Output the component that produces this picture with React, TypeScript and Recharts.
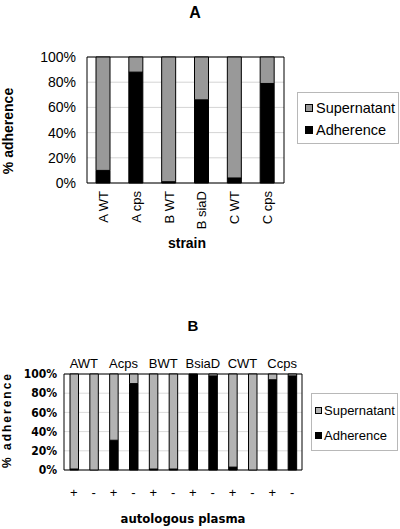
import { Bar, BarChart, CartesianGrid, Legend, ReferenceArea, XAxis, YAxis } from 'recharts';

const FONT = '"Liberation Sans", Arial, sans-serif';
const NARROW = '"Liberation Sans Narrow", "DejaVu Sans Condensed", "Liberation Sans", Arial, sans-serif';

// panel A
const strainsA = ['A WT', 'A cps', 'B WT', 'B siaD', 'C WT', 'C cps'];
const adherenceA = [10, 88, 1, 66, 4, 79];
const supernatantA = [90, 12, 99, 34, 96, 21];

// panel B
const groupsB = ['AWT', 'AWT', 'Acps', 'Acps', 'BWT', 'BWT', 'BsiaD', 'BsiaD', 'CWT', 'CWT', 'Ccps', 'Ccps'];
const plasmaB = ['+', '-', '+', '-', '+', '-', '+', '-', '+', '-', '+', '-'];
const adherenceB = [1, 0, 31, 90, 1, 1, 100, 98, 3, 0, 94, 98];
const supernatantB = [99, 100, 69, 10, 99, 99, 0, 2, 97, 100, 6, 2];

const percentTicks = [0, 20, 40, 60, 80, 100];

const dataA = strainsA.map((s, i) => ({ strain: s, adherence: adherenceA[i], supernatant: supernatantA[i] }));
const dataB = plasmaB.map((p, i) => ({ plasma: p, group: groupsB[i], adherence: adherenceB[i], supernatant: supernatantB[i] }));

const pct = (v: number) => `${v}%`;

const LegendBox = (props: any) => {
  const { payload, fontSize, rowHeight, padTop, iconSize, padLeft, gap, width, height } = props;
  return (
    <div
      style={{
        width,
        height,
        border: '1px solid #b8b8b8',
        boxSizing: 'border-box',
        paddingTop: padTop,
        paddingLeft: padLeft,
        background: '#fff',
        fontFamily: FONT,
        fontSize,
        color: '#000',
      }}
    >
      {[...(payload ?? [])].reverse().map((p: any) => (
        <div key={p.value} style={{ height: rowHeight, display: 'flex', alignItems: 'center' }}>
          <span
            style={{
              display: 'inline-block',
              width: iconSize,
              height: iconSize,
              background: p.color,
              border: '1px solid #000',
              boxSizing: 'border-box',
              marginRight: gap,
            }}
          />
          <span>{p.value}</span>
        </div>
      ))}
    </div>
  );
};

const StrainTick = (props: any) => {
  const { x, payload } = props;
  return (
    <text
      x={x}
      y={191}
      transform={`rotate(-90, ${x}, 191)`}
      textAnchor='end'
      dominantBaseline='central'
      fontFamily={FONT}
      fontSize={13}
      fill='#000'
    >
      {payload.value}
    </text>
  );
};

const PlasmaTick = (props: any) => {
  const { x, payload } = props;
  return (
    <text x={x} y={227} textAnchor='middle' dominantBaseline='central' fontFamily={FONT} fontSize={13} fill='#000'>
      {payload.value}
    </text>
  );
};

const GroupTick = (props: any) => {
  const { x, payload, index } = props;
  if (index % 2 !== 0) return <g />;
  const half = payload.offset ?? 9.9;
  return (
    <text x={x + half} y={98} textAnchor='middle' dominantBaseline='central' fontFamily={FONT} fontSize={13} fill='#000'>
      {payload.value}
    </text>
  );
};

const ChartA = () => (
  <BarChart width={400} height={265} data={dataA} margin={{ top: 57, right: 116, bottom: 0, left: 0 }}>
    <CartesianGrid vertical={false} stroke='#d4d4d4' />
    <XAxis dataKey='strain' height={82} interval={0} axisLine={false} tickLine={false} tick={StrainTick} />
    <YAxis
      width={87}
      domain={[0, 100]}
      ticks={percentTicks}
      interval={0}
      tickFormatter={pct}
      axisLine={false}
      tickLine={false}
      tickMargin={5}
      tick={{ fontFamily: FONT, fontSize: 14, fill: '#000' }}
    />
    <Bar dataKey='adherence' name='Adherence' stackId='a' fill='#000' stroke='#000' barSize={14} isAnimationActive={false} />
    <Bar dataKey='supernatant' name='Supernatant' stackId='a' fill='#999999' stroke='#000' barSize={14} isAnimationActive={false} />
    <ReferenceArea y1={0} y2={100} fill='none' stroke='#000' strokeWidth={1} ifOverflow='visible' />
    <Legend
      layout='horizontal'
      verticalAlign='middle'
      align='center'
      wrapperStyle={{ left: 297, top: 92, width: 102, height: 52 }}
      content={(p: any) => (
        <LegendBox {...p} fontSize={14.5} rowHeight={22} padTop={4} iconSize={8} padLeft={7} gap={3} width={102} height={52} />
      )}
    />
    <text x={195} y={12} textAnchor='middle' dominantBaseline='central' fontFamily={FONT} fontWeight='bold' fontSize={16}>
      A
    </text>
    <text x={187} y={243} textAnchor='middle' dominantBaseline='central' fontFamily={FONT} fontWeight='bold' fontSize={14}>
      strain
    </text>
    <text
      transform='translate(8,131) rotate(-90)'
      textAnchor='middle'
      dominantBaseline='central'
      fontFamily={FONT}
      fontWeight='bold'
      fontSize={14}
    >
      % adherence
    </text>
  </BarChart>
);

const ChartB = () => (
  <BarChart width={400} height={264} data={dataB} margin={{ top: 89, right: 98, bottom: 0, left: 0 }}>
    <CartesianGrid vertical={false} stroke='#dadada' />
    <XAxis
      xAxisId='grp'
      orientation='top'
      dataKey='group'
      height={20}
      interval={0}
      axisLine={false}
      tickLine={false}
      tick={GroupTick}
    />
    <XAxis dataKey='plasma' height={59} interval={0} axisLine={false} tickLine={false} tick={PlasmaTick} />
    <YAxis
      width={64}
      domain={[0, 100]}
      ticks={percentTicks}
      interval={0}
      tickFormatter={pct}
      axisLine={false}
      tickLine={false}
      tickMargin={1}
      tick={{ fontFamily: NARROW, fontWeight: 'bold', fontSize: 12, fill: '#000' }}
    />
    <Bar dataKey='adherence' name='Adherence' stackId='b' fill='#000' stroke='#000' barSize={8.5} isAnimationActive={false} />
    <Bar dataKey='supernatant' name='Supernatant' stackId='b' fill='#b3b3b3' stroke='#000' barSize={8.5} isAnimationActive={false} />
    <ReferenceArea y1={0} y2={100} fill='none' stroke='#000' strokeWidth={1} ifOverflow='visible' />
    <Legend
      layout='horizontal'
      verticalAlign='middle'
      align='center'
      wrapperStyle={{ left: 311, top: 128, width: 87, height: 58 }}
      content={(p: any) => (
        <LegendBox {...p} fontSize={13} rowHeight={25} padTop={4} iconSize={7} padLeft={3} gap={2} width={87} height={58} />
      )}
    />
    <text x={193} y={60} textAnchor='middle' dominantBaseline='central' fontFamily={FONT} fontWeight='bold' fontSize={15}>
      B
    </text>
    <text x={183} y={253} textAnchor='middle' dominantBaseline='central' fontFamily={NARROW} fontWeight='bold' fontSize={13}>
      autologous plasma
    </text>
    <text
      transform='translate(7,155) rotate(-90)'
      textAnchor='middle'
      dominantBaseline='central'
      fontFamily={FONT}
      fontWeight='bold'
      fontSize={12}
      letterSpacing={2}
    >
      % adherence
    </text>
  </BarChart>
);

export default function App() {
  return (
    <div style={{ position: 'absolute', left: 0, top: 0, width: 400, height: 529, background: '#fff' }}>
      <div style={{ position: 'absolute', left: 0, top: 0 }}>
        <ChartA />
      </div>
      <div style={{ position: 'absolute', left: 0, top: 265 }}>
        <ChartB />
      </div>
    </div>
  );
}
